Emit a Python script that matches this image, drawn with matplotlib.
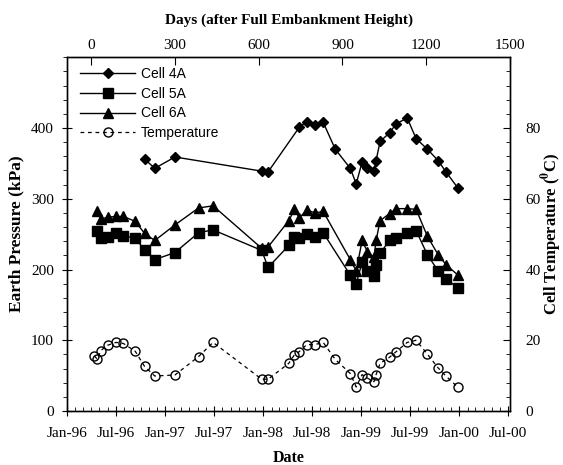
import matplotlib
matplotlib.use("Agg")
import matplotlib.pyplot as plt
import matplotlib.dates as mdates
import numpy as np
import pandas as pd

# ---------------- data ----------------
dates = ["1996-04-12", "1996-04-23", "1996-05-06", "1996-05-31", "1996-07-02", "1996-07-29",
         "1996-09-11", "1996-10-16", "1996-11-23", "1997-02-06", "1997-05-05", "1997-06-28",
         "1997-12-26", "1998-01-19", "1998-04-06", "1998-04-27", "1998-05-15", "1998-06-12",
         "1998-07-13", "1998-08-12", "1998-09-26", "1998-11-21", "1998-12-13", "1999-01-04",
         "1999-01-24", "1999-02-17", "1999-02-25", "1999-03-12", "1999-04-16", "1999-05-11",
         "1999-06-21", "1999-07-24", "1999-09-04", "1999-10-14", "1999-11-12", "1999-12-27"]

temperature = [15.6, 14.6, 17.1, 18.6, 19.4, 19.1, 16.9, 12.6, 9.9, 10.2, 15.4, 19.4,
               9.0, 9.0, 13.5, 15.9, 16.8, 18.8, 18.8, 19.4, 14.6, 10.6, 6.8, 10.3,
               9.3, 8.3, 10.3, 13.5, 15.2, 16.8, 19.4, 20.0, 16.1, 12.2, 9.9, 6.7]

N = None
cell_4a = [N, N, N, N, N, N, N, 356, 343, 359, N, N,
           339, 338, N, N, 401, 409, 404, 408, 370, 343, 321, 352,
           344, 339, 354, 381, 393, 406, 414, 385, 370, 354, 338, 315]

cell_5a = [N, 254, 244, 246, 251, 248, 244, 228, 214, 224, 252, 256,
           227, 203, 234, 246, 244, 250, 246, 252, N, 192, 180, 210,
           198, 191, 206, 223, 241, 244, 252, 255, 221, 198, 187, 174]

cell_6a = [N, 282, 271, 274, 275, 275, 268, 251, 241, 263, 287, 290,
           230, 232, 269, 285, 273, 284, 280, 282, N, 214, 198, 241,
           225, 217, 241, 269, 279, 286, 286, 285, 247, 221, 207, 192]

x_ticks_days = [0, 300, 600, 900, 1200, 1500]
left_ticks = [0, 100, 200, 300, 400]
right_ticks = [0, 20, 40, 60, 80]

# ---------------- figure ----------------
serif = "Liberation Serif"
sans = "Liberation Sans"
plt.rcParams["mathtext.fontset"] = "stix"

fig = plt.figure(figsize=(5.63, 4.65), dpi=100)
ax = fig.add_axes([0.119, 0.116, 0.787, 0.761])
axr = ax.twinx()
axt = ax.twiny()

d = pd.to_datetime(dates)


def series(vals):
    v = np.array([np.nan if x is None else x for x in vals], dtype=float)
    m = ~np.isnan(v)
    return d[m], v[m]


x4, y4 = series(cell_4a)
x5, y5 = series(cell_5a)
x6, y6 = series(cell_6a)
l4, = ax.plot(x4, y4, "-", color="black", lw=1.0, marker="D", ms=5, mfc="black", label="Cell 4A")
l5, = ax.plot(x5, y5, "-", color="black", lw=1.0, marker="s", ms=6.5, mfc="black", label="Cell 5A")
l6, = ax.plot(x6, y6, "-", color="black", lw=1.0, marker="^", ms=7, mfc="black", label="Cell 6A")
lt, = axr.plot(d, temperature, color="black", lw=0.9, dashes=(3, 3), marker="o", ms=6.5,
               mfc="none", mec="black", mew=1.0, label="Temperature")

# bottom date axis
ax.set_xlim(pd.Timestamp("1996-01-01"), pd.Timestamp("2000-07-08"))
ax.xaxis.set_major_locator(mdates.MonthLocator(bymonth=[1, 7]))
ax.xaxis.set_minor_locator(mdates.MonthLocator())
ax.xaxis.set_major_formatter(mdates.DateFormatter("%b-%y"))
ax.set_ylim(0, 500)
ax.set_yticks(left_ticks)
ax.set_yticks(np.arange(0, 501, 20), minor=True)

axr.set_ylim(0, 100)
axr.set_yticks(right_ticks)
axr.set_yticks(np.arange(0, 101, 4), minor=True)

axt.set_xlim(-86, 1500)
axt.set_xticks(x_ticks_days)

for a in (ax, axr, axt):
    for lab in a.get_xticklabels() + a.get_yticklabels():
        lab.set_fontfamily(serif)
        lab.set_fontsize(11)

ax.tick_params(axis="x", which="major", direction="inout", length=7, width=0.8, pad=8)
ax.tick_params(axis="x", which="minor", direction="in", length=3, width=0.6)
ax.tick_params(axis="y", which="major", direction="inout", length=7, width=0.8, pad=6)
ax.tick_params(axis="y", which="minor", direction="out", length=3, width=0.6)
axr.tick_params(axis="y", which="major", direction="in", length=5, width=0.8, pad=11)
axr.tick_params(axis="y", which="minor", direction="in", length=3, width=0.6)
axt.tick_params(axis="x", which="major", direction="in", length=6, width=0.8, pad=4)

ax.set_xlabel("Date", fontfamily=serif, fontweight="bold", fontsize=11.5, labelpad=7)
ax.set_ylabel("Earth Pressure (kPa)", fontfamily=serif, fontweight="bold", fontsize=12.5, labelpad=5)
axr.set_ylabel(r"Cell Temperature ($\mathbf{^0}$C)", fontfamily=serif, fontweight="bold",
               fontsize=12, labelpad=-1)
axt.set_xlabel("Days (after Full Embankment Height)", fontfamily=serif, fontweight="bold",
               fontsize=11, labelpad=11)

leg = ax.legend(handles=[l4, l5, l6, lt], loc="upper left", bbox_to_anchor=(0.01, 0.995),
                frameon=False, prop={"family": sans, "size": 10}, handlelength=4.0,
                labelspacing=0.4, handletextpad=0.4, borderaxespad=0.2)

for a in (ax, axr, axt):
    for s in a.spines.values():
        s.set_linewidth(0.9)

fig.savefig("out.png", dpi=100)
